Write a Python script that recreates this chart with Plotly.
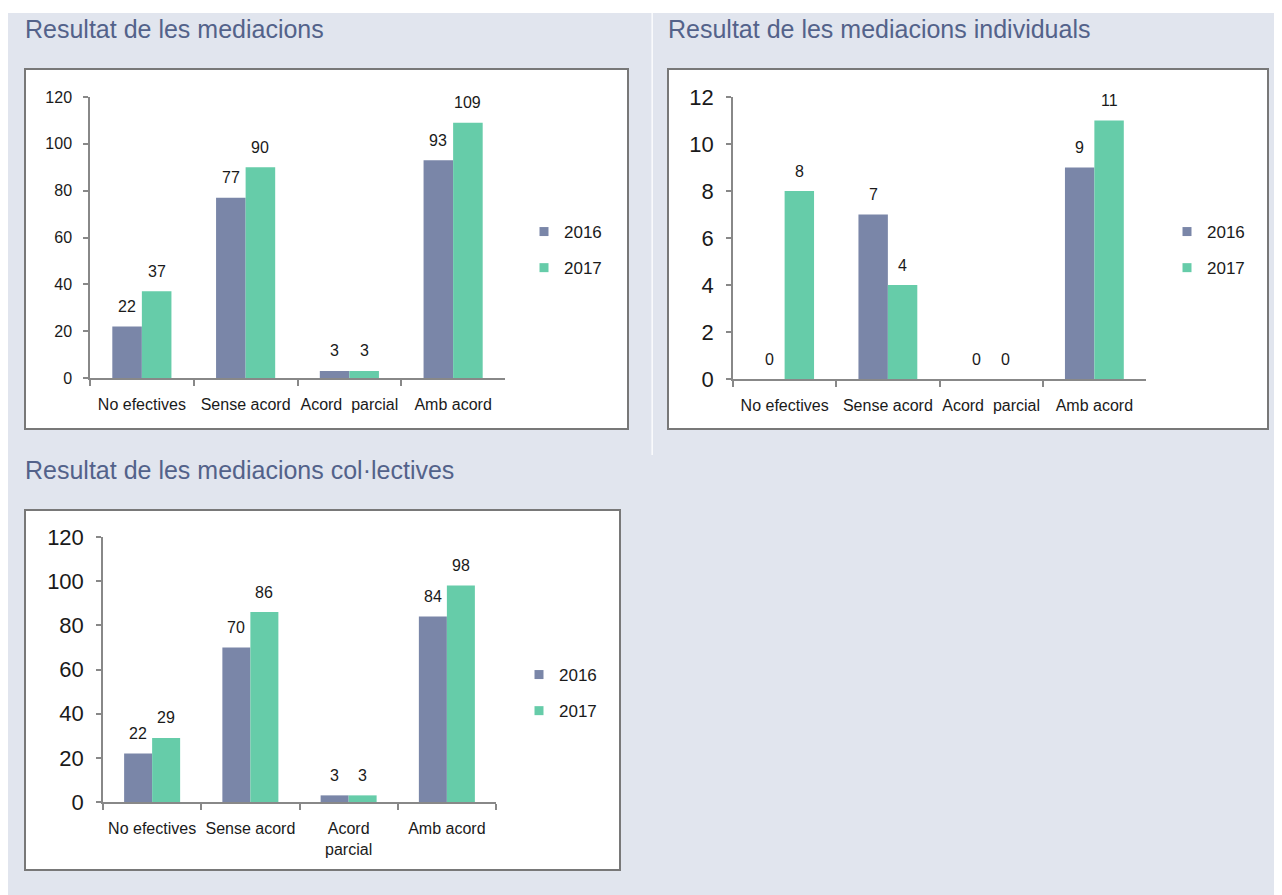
import plotly.graph_objects as go

# ---------------- data ----------------
categories = ["No efectives", "Sense acord", "Acord  parcial", "Amb acord"]
tick_labels_coll = ["No efectives", "Sense acord", "Acord<br>parcial", "Amb acord"]
years = ["2016", "2017"]

total_2016 = [22, 77, 3, 93]
total_2017 = [37, 90, 3, 109]
indiv_2016 = [0, 7, 0, 9]
indiv_2017 = [8, 4, 0, 11]
coll_2016 = [22, 70, 3, 84]
coll_2017 = [29, 86, 3, 98]

titles = ["Resultat de les mediacions",
          "Resultat de les mediacions individuals",
          "Resultat de les mediacions col·lectives"]

# ---------------- style ----------------
OFF = 8                      # page body margin in the browser
W, H = 1282 - OFF, 895 - OFF
BG = "#e1e5ee"
C16 = "#7a86a8"
C17 = "#66cca9"
AXC = "#888888"
TXT = "#1a1a1a"
TITLE_C = "#53628a"
FONT = "Liberation Sans, Arial, sans-serif"
BARGAP = 0.43


def fx(px):
    return (px - OFF) / W


def fy(py):
    return 1 - (py - OFF) / H


fig = go.Figure()

# panel geometry in page pixels: x-axis span, y-axis span (top, bottom)
panels = [
    dict(v16=total_2016, v17=total_2017, xa="x", ya="y", leg="legend",
         xs=(90, 505), ys=(97, 378), rng=[0, 120], dt=20, tfs=16),
    dict(v16=indiv_2016, v17=indiv_2017, xa="x2", ya="y2", leg="legend2",
         xs=(733, 1146), ys=(97, 379), rng=[0, 12], dt=2, tfs=22),
    dict(v16=coll_2016, v17=coll_2017, xa="x3", ya="y3", leg="legend3",
         xs=(103, 496), ys=(537, 802), rng=[0, 120], dt=20, tfs=22),
]

annotations = []
for p in panels:
    cat_px = (p["xs"][1] - p["xs"][0]) / len(categories)
    half = cat_px * (1 - BARGAP) / 4
    for yr, vals, col, sh in ((years[0], p["v16"], C16, -half), (years[1], p["v17"], C17, half)):
        fig.add_trace(go.Bar(
            x=categories, y=vals, name=yr, marker=dict(color=col, line=dict(width=0)),
            xaxis=p["xa"], yaxis=p["ya"], showlegend=False, hoverinfo="x+y+name",
        ))
        fig.add_trace(go.Scatter(
            x=[None], y=[None], mode="markers", name=yr,
            marker=dict(symbol="square", size=9, color=col),
            xaxis=p["xa"], yaxis=p["ya"], legend=p["leg"], legendgroup=yr,
        ))
        for c, v in zip(categories, vals):
            annotations.append(dict(
                x=c, y=v, xref=p["xa"], yref=p["ya"], text=str(v), showarrow=False,
                xshift=sh, yshift=20, yanchor="middle", xanchor="center",
                font=dict(size=16, color=TXT, family=FONT)))

shapes = []
# white top strip and divider
shapes.append(dict(type="rect", xref="paper", yref="paper", x0=0, x1=1, y0=fy(13), y1=1,
                   fillcolor="white", line=dict(width=0), layer="below"))
shapes.append(dict(type="rect", xref="paper", yref="paper", x0=fx(651.5), x1=fx(652.8), y0=fy(455), y1=fy(13),
                   fillcolor="white", line=dict(width=0), layer="below"))
# chart boxes
for (x0, y0, x1, y1) in [(25, 69, 628, 429), (668, 69, 1268, 429), (25, 510, 620, 870)]:
    shapes.append(dict(type="rect", xref="paper", yref="paper", x0=fx(x0), x1=fx(x1), y0=fy(y1), y1=fy(y0),
                       fillcolor="white", line=dict(color="#787878", width=2), layer="below"))

for t, (x, y) in zip(titles, [(23, 29), (666, 29), (23, 470)]):
    annotations.append(dict(text=t, xref="paper", yref="paper", x=fx(x), y=fy(y), xanchor="left",
                            yanchor="middle", showarrow=False,
                            font=dict(size=25, color=TITLE_C, family=FONT)))


def xaxis(dom, anchor, ticktext=None):
    d = dict(domain=[fx(dom[0]), fx(dom[1])], type="category", showline=True, linecolor=AXC, linewidth=1.5,
             ticks="outside", tickson="boundaries", ticklen=6, tickcolor=AXC, tickwidth=1.5,
             showgrid=False, tickfont=dict(size=16, color=TXT, family=FONT), fixedrange=True,
             anchor=anchor, ticklabelstandoff=11, tickangle=0)
    if ticktext is not None:
        d.update(tickmode="array", tickvals=categories, ticktext=ticktext)
    return d


def yaxis(dom, rng, dtick, size, anchor):
    return dict(domain=[fy(dom[1]), fy(dom[0])], range=rng, dtick=dtick, showline=True, linecolor=AXC,
                linewidth=1.5, ticks="outside", ticklen=5, tickcolor=AXC, tickwidth=1.5, showgrid=False,
                zeroline=False, tickfont=dict(size=size, color=TXT, family=FONT), anchor=anchor,
                fixedrange=True, ticklabelstandoff=8)


def legend(x, y):
    return dict(x=fx(x), y=fy(y), xanchor="left", yanchor="top", bgcolor="rgba(0,0,0,0)",
                font=dict(size=17, color=TXT, family=FONT), traceorder="grouped", tracegroupgap=11,
                itemwidth=30)


lay = dict(
    width=W, height=H, margin=dict(l=0, r=0, t=0, b=0, autoexpand=False),
    paper_bgcolor=BG, plot_bgcolor="rgba(0,0,0,0)",
    barmode="group", bargap=BARGAP, bargroupgap=0,
    font=dict(family=FONT, color=TXT),
    shapes=shapes, annotations=annotations,
)
leg_pos = [(524, 214), (1167, 214), (519, 657)]
for i, p in enumerate(panels):
    sfx = "" if i == 0 else str(i + 1)
    tt = tick_labels_coll if i == 2 else None
    lay["xaxis" + sfx] = xaxis(p["xs"], p["ya"], tt)
    lay["yaxis" + sfx] = yaxis(p["ys"], p["rng"], p["dt"], p["tfs"], p["xa"])
    lay["legend" + sfx] = legend(*leg_pos[i])

fig.update_layout(**lay)
fig.write_html("out.html")
